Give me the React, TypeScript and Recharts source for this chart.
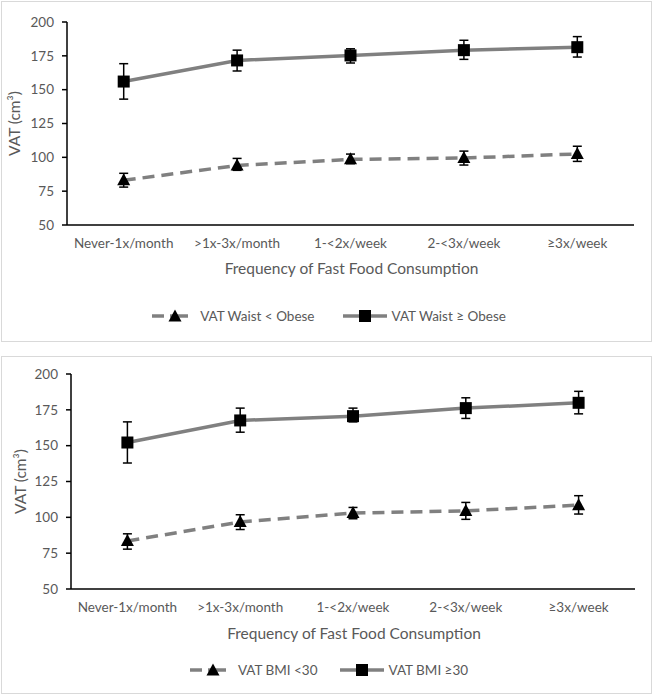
import React from 'react';
import { LineChart, Line, XAxis, YAxis, ErrorBar, Legend } from 'recharts';

const categories = ['Never-1x/month', '>1x-3x/month', '1-<2x/week', '2-<3x/week', '≥3x/week'];
const yTicks = [50, 75, 100, 125, 150, 175, 200];

// Top panel (waist)
const waistBelowMean = [83, 94, 98.5, 99.5, 102.5];
const waistBelowLow = [78, 90.4, 95.3, 94.3, 97];
const waistBelowHigh = [88.2, 99.2, 102.4, 104.6, 108.2];
const waistAboveMean = [156, 171.6, 175.3, 179.2, 181.4];
const waistAboveLow = [143, 163.8, 169.7, 172.4, 174.1];
const waistAboveHigh = [169.2, 179.2, 180.2, 186.5, 189.2];

// Bottom panel (BMI)
const bmiBelowMean = [83.5, 96.8, 103, 104.5, 108.5];
const bmiBelowLow = [77.8, 91.5, 99, 98.6, 102.3];
const bmiBelowHigh = [88.5, 101.8, 106.9, 110.4, 115.1];
const bmiAboveMean = [152.2, 167.6, 170.6, 176.2, 179.9];
const bmiAboveLow = [137.9, 159.4, 166.6, 169, 172.2];
const bmiAboveHigh = [166.6, 176.2, 176.2, 183.4, 187.9];

const FONT = 'Lato, "Liberation Sans", sans-serif';
const TEXT = '#595959';
const LINE = '#808080';

function buildRows(aM: number[], aL: number[], aH: number[], bM: number[], bL: number[], bH: number[]) {
  return categories.map((c, i) => ({
    cat: c,
    a: aM[i],
    aErr: [aM[i] - aL[i], aH[i] - aM[i]],
    b: bM[i],
    bErr: [bM[i] - bL[i], bH[i] - bM[i]],
  }));
}

const triPoints = (cx: number, cy: number) => `${cx},${cy - 7} ${cx + 6.5},${cy + 5} ${cx - 6.5},${cy + 5}`;

const TriangleDot = (props: any) => {
  const { cx, cy, index } = props;
  if (cx == null || cy == null) return <g key={`t${index}`} />;
  return <polygon key={`t${index}`} points={triPoints(cx, cy)} fill="#000" />;
};

const SquareDot = (props: any) => {
  const { cx, cy, index } = props;
  if (cx == null || cy == null) return <g key={`s${index}`} />;
  return <rect key={`s${index}`} x={cx - 6} y={cy - 6} width={12} height={12} fill="#000" />;
};

function LegendContent({ labelA, labelB, gap }: { labelA: string; labelB: string; gap: number }) {
  return (
    <div
      style={{
        display: 'flex',
        justifyContent: 'center',
        alignItems: 'center',
        height: 20,
        fontFamily: FONT,
        fontSize: 13.5,
        color: TEXT,
        paddingLeft: 4,
        whiteSpace: 'nowrap',
      }}
    >
      <svg width={36} height={16} style={{ display: 'block' }}>
        <line x1={0} y1={8} x2={12} y2={8} stroke={LINE} strokeWidth={3.5} />
        <line x1={18} y1={8} x2={36} y2={8} stroke={LINE} strokeWidth={3.5} />
        <polygon points={triPoints(23, 8.5)} fill="#000" />
      </svg>
      <span style={{ marginLeft: 12 }}>{labelA}</span>
      <svg width={44} height={16} style={{ display: 'block', marginLeft: gap }}>
        <line x1={0} y1={8} x2={44} y2={8} stroke={LINE} strokeWidth={3.5} />
        <rect x={16} y={2} width={12} height={12} fill="#000" />
      </svg>
      <span style={{ marginLeft: 5 }}>{labelB}</span>
    </div>
  );
}

type PanelProps = {
  rows: any[];
  labelA: string;
  labelB: string;
  height: number;
  margin: { top: number; right: number; bottom: number; left: number };
  yAxisWidth: number;
  xAxisHeight: number;
  plotWidth: number;
  titleDy: number;
  yLabelX: number;
  legendGap: number;
};

function Panel(p: PanelProps) {
  const pad = p.plotWidth / 10;
  return (
    <LineChart width={654} height={p.height} data={p.rows} margin={p.margin}>
      <XAxis
        dataKey="cat"
        type="category"
        padding={{ left: pad, right: pad }}
        height={p.xAxisHeight}
        axisLine={{ stroke: '#000', strokeWidth: 1.5 }}
        tickLine={false}
        tickSize={0}
        tickMargin={13}
        interval={0}
        tick={{ fill: TEXT, fontSize: 13.5, fontFamily: FONT }}
        label={{
          content: (lp: any) => {
            const vb = lp.viewBox || {};
            return (
              <text
                x={vb.x + vb.width / 2 + 1}
                y={vb.y + p.titleDy}
                textAnchor="middle"
                dominantBaseline="central"
                fill={TEXT}
                fontSize={15.5}
                fontFamily={FONT}
              >
                Frequency of Fast Food Consumption
              </text>
            );
          },
        }}
      />
      <YAxis
        type="number"
        domain={[50, 200]}
        ticks={yTicks}
        interval={0}
        width={p.yAxisWidth}
        axisLine={{ stroke: '#000', strokeWidth: 1.5 }}
        tickLine={{ stroke: '#000', strokeWidth: 1.5 }}
        tickSize={5}
        tickMargin={8}
        tick={{ fill: TEXT, fontSize: 13.5, fontFamily: FONT }}
        label={{
          content: (lp: any) => {
            const vb = lp.viewBox || {};
            const cy = vb.y + vb.height / 2;
            const cx = p.yLabelX;
            return (
              <text
                x={cx}
                y={cy}
                transform={`rotate(-90 ${cx} ${cy})`}
                textAnchor="middle"
                dominantBaseline="central"
                fill={TEXT}
                fontSize={15.5}
                fontFamily={FONT}
              >
                VAT (cm³)
              </text>
            );
          },
        }}
      />
      <Legend
        verticalAlign="bottom"
        wrapperStyle={{ left: 0, width: 654 }}
        content={() => <LegendContent labelA={p.labelA} labelB={p.labelB} gap={p.legendGap} />}
      />
      <Line
        dataKey="a"
        stroke={LINE}
        strokeWidth={3.5}
        strokeDasharray="12 7"
        dot={TriangleDot}
        activeDot={false}
        isAnimationActive={false}
      >
        <ErrorBar dataKey="aErr" direction="y" width={4.5} stroke="#000" strokeWidth={1.5} />
      </Line>
      <Line
        dataKey="b"
        stroke={LINE}
        strokeWidth={3.5}
        dot={SquareDot}
        activeDot={false}
        isAnimationActive={false}
      >
        <ErrorBar dataKey="bErr" direction="y" width={4.5} stroke="#000" strokeWidth={1.5} />
      </Line>
    </LineChart>
  );
}

const topRows = buildRows(waistBelowMean, waistBelowLow, waistBelowHigh, waistAboveMean, waistAboveLow, waistAboveHigh);
const bottomRows = buildRows(bmiBelowMean, bmiBelowLow, bmiBelowHigh, bmiAboveMean, bmiAboveLow, bmiAboveHigh);

export default function App() {
  return (
    <div style={{ position: 'absolute', left: 0, top: 0, width: 654, height: 695, background: '#fff' }}>
      <div
        style={{
          position: 'absolute',
          left: 1,
          top: 1,
          width: 651,
          height: 341,
          border: '1px solid #d9d9d9',
          boxSizing: 'border-box',
        }}
      />
      <div
        style={{
          position: 'absolute',
          left: 1,
          top: 356,
          width: 651,
          height: 338,
          border: '1px solid #d9d9d9',
          boxSizing: 'border-box',
        }}
      />
      <div style={{ position: 'absolute', left: 0, top: 0 }}>
        <Panel
          rows={topRows}
          labelA="VAT Waist < Obese"
          labelB="VAT Waist ≥ Obese"
          height={345}
          margin={{ top: 22, right: 20, bottom: 19, left: 17 }}
          yAxisWidth={50}
          xAxisHeight={81}
          plotWidth={567}
          titleDy={43}
          yLabelX={14}
          legendGap={28}
        />
      </div>
      <div style={{ position: 'absolute', left: 0, top: 355 }}>
        <Panel
          rows={bottomRows}
          labelA="VAT BMI <30"
          labelB="VAT BMI ≥30"
          height={340}
          margin={{ top: 19, right: 19, bottom: 15, left: 21 }}
          yAxisWidth={50}
          xAxisHeight={71}
          plotWidth={564}
          titleDy={44}
          yLabelX={20}
          legendGap={22}
        />
      </div>
    </div>
  );
}
